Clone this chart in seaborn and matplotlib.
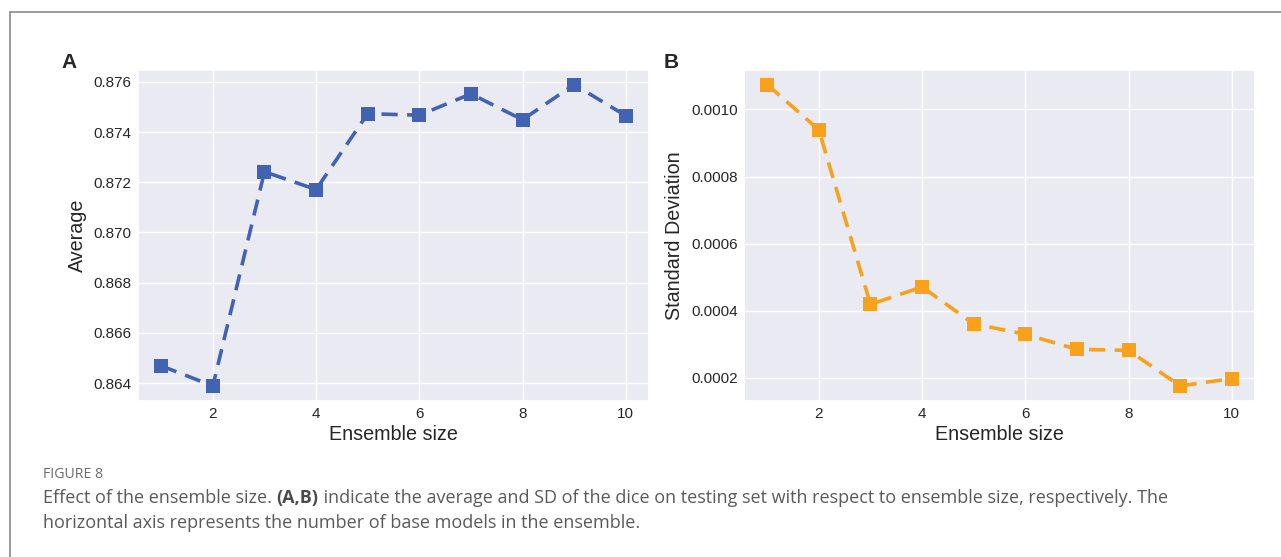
import matplotlib
matplotlib.use("Agg")
import matplotlib.pyplot as plt
from matplotlib.lines import Line2D
import seaborn as sns
import pandas as pd

ensemble_size = [1, 2, 3, 4, 5, 6, 7, 8, 9, 10]
average = [0.86469, 0.86389, 0.87242, 0.87171, 0.87473, 0.87467, 0.87552, 0.87449, 0.87589, 0.87465]
std_dev = [0.001074, 0.000939, 0.000419, 0.000471, 0.000361, 0.000330, 0.000285, 0.000282, 0.000176, 0.000198]
x_ticks = [2, 4, 6, 8, 10]
a_yticks = [0.864, 0.866, 0.868, 0.870, 0.872, 0.874, 0.876]
b_yticks = [0.0002, 0.0004, 0.0006, 0.0008, 0.0010]

sns.set_theme(style="darkgrid")
plt.rcParams['font.family'] = ['Liberation Sans', 'DejaVu Sans']

df = pd.DataFrame({"size": ensemble_size, "avg": average, "sd": std_dev})

W, H = 1281, 557
fig = plt.figure(figsize=(W / 100, H / 100), dpi=100)
fig.patch.set_facecolor("white")

def ax_rect(l, t, r, b):
    return [l / W, 1 - b / H, (r - l) / W, (b - t) / H]

axA = fig.add_axes(ax_rect(138, 69.5, 649, 401))
axB = fig.add_axes(ax_rect(744, 69.5, 1255, 401))

line_kw = dict(marker="s", markersize=10.5, linewidth=2.6, dashes=(4.5, 2.6),
               markeredgewidth=0)
sns.lineplot(data=df, x="size", y="avg", ax=axA, color="#4262B2", **line_kw)
sns.lineplot(data=df, x="size", y="sd", ax=axB, color="#F8A11D", **line_kw)

for ax, yt, fmt, ylabel in [(axA, a_yticks, "{:.3f}", "Average"),
                            (axB, b_yticks, "{:.4f}", "Standard Deviation")]:
    ax.set_xticks(x_ticks)
    ax.set_xticklabels([str(v) for v in x_ticks])
    ax.set_yticks(yt)
    ax.set_yticklabels([fmt.format(v) for v in yt])
    ax.tick_params(axis="both", labelsize=11, colors="#262626", length=0, pad=4.5)
    ax.set_xlabel("Ensemble size", fontsize=14.2, color="#262626", labelpad=3)
    ax.set_ylabel(ylabel, fontsize=14.2, color="#262626", labelpad=5)
    ax.margins(x=0.05, y=0.05)

fig.text(69 / W, 1 - 63 / H, "A", fontsize=15, fontweight="bold", ha="center", va="center")
fig.text(671 / W, 1 - 63 / H, "B", fontsize=15, fontweight="bold", ha="center", va="center")

# frame lines (left and top)
fig.add_artist(Line2D([10 / W, 10 / W], [0, 1 - 12 / H], color="#8a8a8a", linewidth=1.2,
                      transform=fig.transFigure))
fig.add_artist(Line2D([10 / W, 1], [1 - 12 / H, 1 - 12 / H], color="#8a8a8a", linewidth=1.2,
                      transform=fig.transFigure))

cap_font = ['Open Sans', 'DejaVu Sans']
cap_size = 13
fig.text(43 / W, 1 - 474 / H, "FIGURE 8", fontsize=10.2, color="#6a6a6a",
         family=cap_font, va="center", ha="left")
t1 = "Effect of the ensemble size. "
fig.text(43 / W, 1 - 498 / H, t1, fontsize=cap_size, color="#5a5a5a",
         family=cap_font, va="center", ha="left")
renderer = fig.canvas.get_renderer()
tmp = fig.text(0, 0, t1, fontsize=cap_size, family=cap_font)
w1 = tmp.get_window_extent(renderer).width
tmp.remove()
bold = fig.text(43 / W + w1 / W, 1 - 498 / H, "(A,B)", fontsize=cap_size, color="#4a4a4a",
                family=cap_font, fontweight="bold", va="center", ha="left")
w2 = bold.get_window_extent(renderer).width
fig.text(43 / W + (w1 + w2) / W, 1 - 498 / H,
         " indicate the average and SD of the dice on testing set with respect to ensemble size, respectively. The",
         fontsize=cap_size, color="#5a5a5a", family=cap_font, va="center", ha="left")
fig.text(43 / W, 1 - 523 / H,
         "horizontal axis represents the number of base models in the ensemble.",
         fontsize=cap_size, color="#5a5a5a", family=cap_font, va="center", ha="left")

fig.savefig("out.png", dpi=100, facecolor="white")
